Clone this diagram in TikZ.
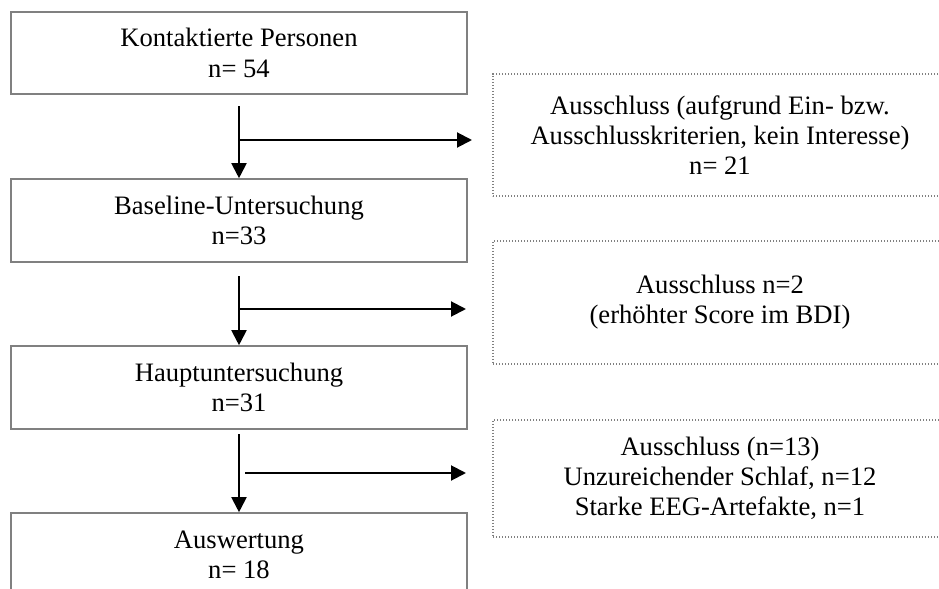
\documentclass[tikz,border=0pt]{standalone}
\usepackage{fontspec}
\setmainfont{Liberation Serif}
\usetikzlibrary{arrows.meta}
\tikzset{
  stufe/.style={draw=gray, line width=0.8pt, minimum width=228pt, align=center, inner sep=0pt},
  ausschluss/.style={draw=gray, line width=0.7pt, dash pattern=on 0.7pt off 0.8pt,
    minimum width=227pt, align=center, inner sep=0pt},
  pfeil/.style={line width=1pt, -{Triangle[length=7.5pt,width=7.5pt]}}
}
\begin{document}
\begin{tikzpicture}[x=0.5pt, y=-0.5pt, font=\fontsize{13.3}{15.1}\selectfont]
      \useasboundingbox (0,0) rectangle (939,589);
      \clip (0,0) rectangle (939,589);
      \node[stufe, minimum height=41pt] (kontakt) at (239,53) {Kontaktierte Personen\\n= 54};
      \node[stufe, minimum height=41.5pt] (baseline) at (239,220.5) {Baseline-Untersuchung\\n=33};
      \node[stufe, minimum height=41.5pt] (haupt) at (239,387.5) {Hauptuntersuchung\\n=31};
      \node[stufe, minimum height=41.5pt] (auswertung) at (239,554.5) {Auswertung\\n= 18};
      \node[ausschluss, minimum height=61pt] (aus1) at (720,135)
        {Ausschluss (aufgrund Ein- bzw.\\Ausschlusskriterien, kein Interesse)\\n= 21};
      \node[ausschluss, minimum height=61.5pt] (aus2) at (720,302.5)
        {Ausschluss n=2\\(erhöhter Score im BDI)};
      \node[ausschluss, minimum height=58.5pt] (aus3) at (720,478.5)
        {Ausschluss (n=13)\\Unzureichender Schlaf, n=12\\Starke EEG-Artefakte, n=1};
      \coordinate (v1) at (239,106);
      \coordinate (v2) at (239,276);
      \coordinate (v3) at (239,434);
      \coordinate (h1) at (239,140);
      \coordinate (h2) at (239,309);
      \coordinate (h3) at (245,473);
      \coordinate (e1) at (472,140);
      \coordinate (e2) at (466,309);
      \coordinate (e3) at (466,473);
      \draw[pfeil] (v1) -- (baseline);
      \draw[pfeil] (v2) -- (haupt);
      \draw[pfeil] (v3) -- (auswertung);
      \draw[pfeil] (h1) -- (e1);
      \draw[pfeil] (h2) -- (e2);
      \draw[pfeil] (h3) -- (e3);
    \end{tikzpicture}
\end{document}
